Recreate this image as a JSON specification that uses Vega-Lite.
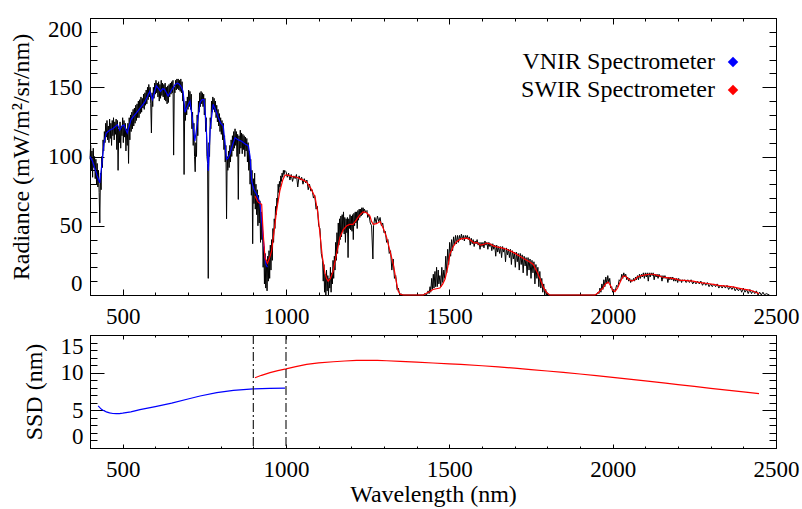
{
"$schema":"https://vega.github.io/schema/vega-lite/v6.json",
"background":"white",
"padding":{"left":8,"top":17,"right":5,"bottom":0},
"spacing":4,
"config":{
"font":"Liberation Serif",
"view":{"stroke":"black","strokeWidth":1},
"axis":{"labelFont":"Liberation Serif","labelFontSize":23,"labelColor":"black","titleFont":"Liberation Serif","titleFontSize":24,"titleFontWeight":"normal","titleColor":"black","tickColor":"black","grid":false,"domain":false,"labelOverlap":false},
"legend":{"labelFont":"Liberation Serif","labelFontSize":24,"labelColor":"black"}
},
"datasets":{
"spec":[
{"w":400,"r":98},{"w":402,"r":108},{"w":404,"r":90},{"w":406,"r":104},{"w":408,"r":85},{"w":410,"r":106},{"w":412,"r":92},{"w":414,"r":100},{"w":416,"r":84},{"w":418,"r":98},{"w":420,"r":80},{"w":422,"r":95},{"w":424,"r":78},{"w":426,"r":90},{"w":428,"r":74},{"w":430,"r":52},{"w":432,"r":88},{"w":434,"r":76},{"w":436,"r":100},{"w":438,"r":92},{"w":440,"r":112},{"w":442,"r":104},{"w":444,"r":118},{"w":446,"r":110},{"w":448,"r":124},{"w":450,"r":114},{"w":452,"r":126},{"w":454,"r":112},{"w":456,"r":122},{"w":458,"r":110},{"w":460,"r":127},{"w":462,"r":113},{"w":464,"r":124},{"w":466,"r":108},{"w":468,"r":126},{"w":470,"r":115},{"w":472,"r":128},{"w":474,"r":112},{"w":476,"r":125},{"w":478,"r":116},{"w":480,"r":127},{"w":482,"r":105},{"w":484,"r":126},{"w":486,"r":90},{"w":488,"r":120},{"w":490,"r":110},{"w":492,"r":125},{"w":494,"r":106},{"w":496,"r":122},{"w":498,"r":115},
{"w":500,"r":128},{"w":502,"r":110},{"w":504,"r":126},{"w":506,"r":114},{"w":508,"r":124},{"w":510,"r":104},{"w":512,"r":120},{"w":514,"r":108},{"w":516,"r":124},{"w":518,"r":95},{"w":520,"r":128},{"w":522,"r":112},{"w":524,"r":130},{"w":526,"r":118},{"w":528,"r":132},{"w":530,"r":120},{"w":532,"r":134},{"w":534,"r":122},{"w":536,"r":135},{"w":538,"r":124},{"w":540,"r":137},{"w":542,"r":126},{"w":544,"r":138},{"w":546,"r":128},{"w":548,"r":140},{"w":550,"r":128},{"w":552,"r":141},{"w":554,"r":131},{"w":556,"r":143},{"w":558,"r":132},{"w":560,"r":142},{"w":562,"r":135},{"w":564,"r":145},{"w":566,"r":134},{"w":568,"r":146},{"w":570,"r":137},{"w":572,"r":148},{"w":574,"r":138},{"w":576,"r":150},{"w":578,"r":141},{"w":580,"r":152},{"w":582,"r":143},{"w":584,"r":150},{"w":586,"r":138},{"w":588,"r":117},{"w":590,"r":146},{"w":592,"r":136},{"w":594,"r":150},{"w":596,"r":142},{"w":598,"r":153},
{"w":600,"r":145},{"w":602,"r":155},{"w":604,"r":146},{"w":606,"r":153},{"w":608,"r":143},{"w":610,"r":154},{"w":612,"r":140},{"w":614,"r":152},{"w":616,"r":142},{"w":618,"r":155},{"w":620,"r":144},{"w":622,"r":153},{"w":624,"r":143},{"w":626,"r":152},{"w":628,"r":141},{"w":630,"r":153},{"w":632,"r":140},{"w":634,"r":150},{"w":636,"r":138},{"w":638,"r":151},{"w":640,"r":139},{"w":642,"r":152},{"w":644,"r":143},{"w":646,"r":153},{"w":648,"r":145},{"w":650,"r":154},{"w":652,"r":146},{"w":654,"r":155},{"w":656,"r":101},{"w":658,"r":150},{"w":660,"r":146},{"w":662,"r":155},{"w":664,"r":148},{"w":666,"r":156},{"w":668,"r":149},{"w":670,"r":156},{"w":672,"r":148},{"w":674,"r":155},{"w":676,"r":147},{"w":678,"r":156},{"w":680,"r":146},{"w":682,"r":154},{"w":684,"r":140},{"w":686,"r":145},{"w":688,"r":87},{"w":690,"r":136},{"w":692,"r":126},{"w":694,"r":140},{"w":696,"r":130},{"w":698,"r":143},
{"w":700,"r":134},{"w":702,"r":148},{"w":704,"r":136},{"w":706,"r":147},{"w":708,"r":134},{"w":710,"r":145},{"w":712,"r":120},{"w":714,"r":132},{"w":716,"r":108},{"w":718,"r":124},{"w":720,"r":100},{"w":722,"r":89},{"w":724,"r":110},{"w":726,"r":100},{"w":728,"r":130},{"w":730,"r":115},{"w":732,"r":140},{"w":734,"r":132},{"w":736,"r":146},{"w":738,"r":136},{"w":740,"r":147},{"w":742,"r":138},{"w":744,"r":146},{"w":746,"r":136},{"w":748,"r":145},{"w":750,"r":130},{"w":752,"r":142},{"w":754,"r":118},{"w":756,"r":128},{"w":758,"r":100},{"w":760,"r":95},{"w":762,"r":12},{"w":764,"r":110},{"w":766,"r":100},{"w":768,"r":128},{"w":770,"r":120},{"w":772,"r":140},{"w":774,"r":132},{"w":776,"r":143},{"w":778,"r":134},{"w":780,"r":142},{"w":782,"r":132},{"w":784,"r":140},{"w":786,"r":128},{"w":788,"r":137},{"w":790,"r":125},{"w":792,"r":134},{"w":794,"r":122},{"w":796,"r":131},{"w":798,"r":118},
{"w":800,"r":128},{"w":802,"r":116},{"w":804,"r":126},{"w":806,"r":112},{"w":808,"r":124},{"w":810,"r":105},{"w":812,"r":115},{"w":814,"r":96},{"w":816,"r":108},{"w":818,"r":55},{"w":820,"r":100},{"w":822,"r":90},{"w":824,"r":104},{"w":826,"r":92},{"w":828,"r":108},{"w":830,"r":96},{"w":832,"r":112},{"w":834,"r":100},{"w":836,"r":115},{"w":838,"r":104},{"w":840,"r":118},{"w":842,"r":106},{"w":844,"r":120},{"w":846,"r":108},{"w":848,"r":118},{"w":850,"r":100},{"w":852,"r":116},{"w":854,"r":69},{"w":856,"r":115},{"w":858,"r":102},{"w":860,"r":119},{"w":862,"r":106},{"w":864,"r":117},{"w":866,"r":102},{"w":868,"r":116},{"w":870,"r":105},{"w":872,"r":115},{"w":874,"r":100},{"w":876,"r":114},{"w":878,"r":104},{"w":880,"r":113},{"w":882,"r":96},{"w":884,"r":110},{"w":886,"r":90},{"w":888,"r":104},{"w":890,"r":80},{"w":892,"r":98},{"w":894,"r":72},{"w":896,"r":90},{"w":898,"r":37},
{"w":900,"r":84},{"w":902,"r":66},{"w":904,"r":88},{"w":906,"r":62},{"w":908,"r":80},{"w":910,"r":58},{"w":912,"r":76},{"w":914,"r":50},{"w":916,"r":72},{"w":918,"r":52},{"w":920,"r":68},{"w":922,"r":38},{"w":924,"r":60},{"w":926,"r":40},{"w":928,"r":52},{"w":930,"r":20},{"w":932,"r":35},{"w":934,"r":8},{"w":936,"r":30},{"w":938,"r":5},{"w":940,"r":25},{"w":942,"r":3},{"w":944,"r":28},{"w":946,"r":10},{"w":948,"r":32},{"w":950,"r":12},{"w":952,"r":36},{"w":954,"r":18},{"w":956,"r":40},{"w":958,"r":25},{"w":960,"r":48},{"w":962,"r":38},{"w":964,"r":55},{"w":966,"r":48},{"w":968,"r":64},{"w":970,"r":58},{"w":972,"r":70},{"w":974,"r":66},{"w":976,"r":80},{"w":978,"r":74},{"w":980,"r":82},{"w":982,"r":78},{"w":984,"r":86},{"w":986,"r":82},{"w":988,"r":88},{"w":990,"r":85},{"w":992,"r":90},{"w":994,"r":87},{"w":996,"r":90},
{"w":1000,"r":89},{"w":1004,"r":85},{"w":1008,"r":88},{"w":1012,"r":83},{"w":1016,"r":87},{"w":1020,"r":82},{"w":1024,"r":86},{"w":1028,"r":84},{"w":1032,"r":87},{"w":1036,"r":78},{"w":1040,"r":86},{"w":1044,"r":83},{"w":1048,"r":85},{"w":1052,"r":80},{"w":1056,"r":84},{"w":1060,"r":81},{"w":1064,"r":83},{"w":1068,"r":76},{"w":1072,"r":80},{"w":1076,"r":75},{"w":1080,"r":76},{"w":1084,"r":70},{"w":1088,"r":72},{"w":1092,"r":62},{"w":1096,"r":64},{"w":1100,"r":50},{"w":1104,"r":48},{"w":1108,"r":30},{"w":1112,"r":25},{"w":1114,"r":10},{"w":1116,"r":22},{"w":1118,"r":2},{"w":1120,"r":15},{"w":1122,"r":0},{"w":1124,"r":18},{"w":1126,"r":3},{"w":1128,"r":14},{"w":1130,"r":0},{"w":1132,"r":12},{"w":1134,"r":5},{"w":1136,"r":20},{"w":1138,"r":2},{"w":1140,"r":16},{"w":1142,"r":8},{"w":1144,"r":25},{"w":1146,"r":12},{"w":1148,"r":28},{"w":1150,"r":18},{"w":1152,"r":38},{"w":1154,"r":25},{"w":1156,"r":45},{"w":1158,"r":30},{"w":1160,"r":52},{"w":1162,"r":36},{"w":1164,"r":55},{"w":1166,"r":40},{"w":1168,"r":57},{"w":1170,"r":42},{"w":1172,"r":58},{"w":1174,"r":46},{"w":1176,"r":60},{"w":1178,"r":44},{"w":1180,"r":56},{"w":1182,"r":38},{"w":1184,"r":55},{"w":1186,"r":45},{"w":1188,"r":56},{"w":1190,"r":27},{"w":1192,"r":55},{"w":1194,"r":48},{"w":1196,"r":58},{"w":1198,"r":47},
{"w":1200,"r":57},{"w":1202,"r":46},{"w":1204,"r":58},{"w":1206,"r":40},{"w":1208,"r":59},{"w":1210,"r":50},{"w":1212,"r":60},{"w":1214,"r":52},{"w":1216,"r":60},{"w":1218,"r":48},{"w":1220,"r":61},{"w":1222,"r":54},{"w":1224,"r":62},{"w":1226,"r":56},{"w":1228,"r":62},{"w":1230,"r":57},{"w":1232,"r":63},{"w":1234,"r":58},{"w":1236,"r":63},{"w":1238,"r":59},{"w":1240,"r":62},{"w":1244,"r":60},{"w":1248,"r":61},{"w":1250,"r":56},{"w":1254,"r":58},{"w":1258,"r":52},{"w":1262,"r":50},{"w":1266,"r":26},{"w":1268,"r":50},{"w":1272,"r":56},{"w":1276,"r":52},{"w":1280,"r":57},{"w":1284,"r":53},{"w":1288,"r":56},{"w":1292,"r":50},{"w":1296,"r":52},{"w":1300,"r":45},{"w":1304,"r":46},{"w":1308,"r":38},{"w":1312,"r":40},{"w":1316,"r":30},{"w":1320,"r":32},{"w":1324,"r":18},{"w":1328,"r":26},{"w":1332,"r":12},{"w":1336,"r":14},{"w":1340,"r":4},{"w":1344,"r":5},{"w":1348,"r":0},{"w":1352,"r":1},{"w":1356,"r":0},{"w":1420,"r":0},{"w":1425,"r":1},{"w":1430,"r":0},{"w":1435,"r":3},{"w":1438,"r":1},{"w":1441,"r":6},{"w":1443,"r":2},{"w":1446,"r":12},{"w":1448,"r":4},{"w":1451,"r":15},{"w":1453,"r":5},{"w":1456,"r":17},{"w":1458,"r":6},{"w":1461,"r":20},{"w":1463,"r":6},{"w":1466,"r":18},{"w":1468,"r":8},{"w":1471,"r":14},{"w":1474,"r":6},{"w":1477,"r":20},{"w":1480,"r":9},{"w":1483,"r":18},{"w":1486,"r":12},{"w":1489,"r":28},{"w":1492,"r":16},{"w":1495,"r":33},{"w":1498,"r":22},
{"w":1501,"r":38},{"w":1504,"r":28},{"w":1507,"r":40},{"w":1510,"r":32},{"w":1513,"r":42},{"w":1516,"r":36},{"w":1519,"r":43},{"w":1522,"r":37},{"w":1525,"r":43},{"w":1528,"r":38},{"w":1531,"r":43},{"w":1534,"r":40},{"w":1537,"r":44},{"w":1540,"r":40},{"w":1543,"r":43},{"w":1546,"r":39},{"w":1549,"r":43},{"w":1552,"r":41},{"w":1555,"r":43},{"w":1558,"r":40},{"w":1561,"r":42},{"w":1564,"r":36},{"w":1567,"r":41},{"w":1570,"r":37},{"w":1573,"r":40},{"w":1576,"r":35},{"w":1579,"r":39},{"w":1582,"r":37},{"w":1585,"r":40},{"w":1588,"r":36},{"w":1591,"r":38},{"w":1594,"r":33},{"w":1597,"r":38},{"w":1600,"r":35},{"w":1603,"r":38},{"w":1606,"r":34},{"w":1609,"r":39},{"w":1612,"r":36},{"w":1615,"r":38},{"w":1618,"r":33},{"w":1621,"r":38},{"w":1624,"r":35},{"w":1627,"r":37},{"w":1630,"r":32},{"w":1633,"r":37},{"w":1636,"r":33},{"w":1639,"r":36},{"w":1642,"r":28},{"w":1645,"r":36},{"w":1648,"r":31},{"w":1651,"r":35},{"w":1654,"r":30},{"w":1657,"r":35},{"w":1660,"r":27},{"w":1663,"r":35},{"w":1666,"r":31},{"w":1669,"r":34},{"w":1672,"r":24},{"w":1675,"r":34},{"w":1678,"r":29},{"w":1681,"r":33},{"w":1684,"r":27},{"w":1687,"r":33},{"w":1690,"r":22},{"w":1693,"r":32},{"w":1696,"r":26},{"w":1699,"r":31},
{"w":1702,"r":20},{"w":1705,"r":31},{"w":1708,"r":24},{"w":1711,"r":30},{"w":1714,"r":18},{"w":1717,"r":30},{"w":1720,"r":22},{"w":1723,"r":29},{"w":1726,"r":16},{"w":1729,"r":28},{"w":1732,"r":21},{"w":1735,"r":27},{"w":1738,"r":14},{"w":1741,"r":27},{"w":1744,"r":18},{"w":1747,"r":26},{"w":1750,"r":12},{"w":1753,"r":25},{"w":1756,"r":16},{"w":1759,"r":24},{"w":1762,"r":8},{"w":1765,"r":22},{"w":1768,"r":12},{"w":1771,"r":20},{"w":1774,"r":6},{"w":1777,"r":17},{"w":1780,"r":5},{"w":1783,"r":12},{"w":1786,"r":2},{"w":1789,"r":8},{"w":1792,"r":0},{"w":1795,"r":4},{"w":1798,"r":0},{"w":1802,"r":1},{"w":1806,"r":0},{"w":1950,"r":0},{"w":1955,"r":2},{"w":1958,"r":1},{"w":1961,"r":5},{"w":1964,"r":2},{"w":1967,"r":8},{"w":1970,"r":4},{"w":1973,"r":11},{"w":1976,"r":6},{"w":1979,"r":13},{"w":1982,"r":8},{"w":1985,"r":14},{"w":1988,"r":9},{"w":1991,"r":12},{"w":1994,"r":5},{"w":1997,"r":6},
{"w":2000,"r":2},{"w":2004,"r":4},{"w":2008,"r":3},{"w":2012,"r":7},{"w":2016,"r":6},{"w":2020,"r":11},{"w":2024,"r":10},{"w":2028,"r":15},{"w":2031,"r":12},{"w":2034,"r":16},{"w":2037,"r":13},{"w":2040,"r":15},{"w":2043,"r":11},{"w":2046,"r":13},{"w":2049,"r":10},{"w":2052,"r":12},{"w":2055,"r":9},{"w":2058,"r":11},{"w":2061,"r":10},{"w":2064,"r":12},{"w":2067,"r":10},{"w":2070,"r":13},{"w":2073,"r":11},{"w":2076,"r":14},{"w":2079,"r":11},{"w":2082,"r":15},{"w":2085,"r":12},{"w":2088,"r":15},{"w":2091,"r":13},{"w":2094,"r":16},{"w":2097,"r":12},{"w":2100,"r":16},{"w":2103,"r":13},{"w":2106,"r":16},{"w":2109,"r":10},{"w":2112,"r":16},{"w":2115,"r":13},{"w":2118,"r":16},{"w":2121,"r":14},{"w":2124,"r":16},{"w":2127,"r":11},{"w":2130,"r":15},{"w":2133,"r":13},{"w":2136,"r":15},{"w":2139,"r":12},{"w":2142,"r":15},{"w":2145,"r":13},{"w":2148,"r":14},{"w":2151,"r":10},{"w":2154,"r":14},{"w":2157,"r":12},{"w":2160,"r":14},{"w":2163,"r":12},{"w":2166,"r":13},{"w":2169,"r":9},{"w":2172,"r":13},{"w":2175,"r":11},{"w":2178,"r":13},{"w":2181,"r":11},{"w":2184,"r":13},{"w":2187,"r":10},{"w":2190,"r":12},{"w":2193,"r":10},{"w":2196,"r":12},{"w":2199,"r":9},
{"w":2202,"r":12},{"w":2205,"r":10},{"w":2208,"r":11},{"w":2211,"r":9},{"w":2214,"r":11},{"w":2217,"r":10},{"w":2220,"r":11},{"w":2225,"r":9},{"w":2230,"r":11},{"w":2235,"r":9},{"w":2240,"r":11},{"w":2245,"r":8},{"w":2250,"r":10},{"w":2255,"r":8},{"w":2260,"r":10},{"w":2265,"r":8},{"w":2270,"r":10},{"w":2275,"r":7},{"w":2280,"r":9},{"w":2285,"r":7},{"w":2290,"r":9},{"w":2295,"r":6},{"w":2300,"r":8},{"w":2305,"r":6},{"w":2310,"r":8},{"w":2315,"r":6},{"w":2320,"r":8},{"w":2325,"r":5},{"w":2330,"r":7},{"w":2335,"r":5},{"w":2340,"r":7},{"w":2345,"r":5},{"w":2350,"r":7},{"w":2355,"r":4},{"w":2360,"r":6},{"w":2365,"r":4},{"w":2370,"r":6},{"w":2375,"r":3},{"w":2380,"r":5},{"w":2385,"r":3},{"w":2390,"r":5},{"w":2395,"r":2},{"w":2400,"r":5},{"w":2405,"r":2},{"w":2410,"r":4},{"w":2415,"r":1},{"w":2420,"r":4},{"w":2425,"r":1},{"w":2430,"r":3},{"w":2435,"r":1},{"w":2440,"r":3},{"w":2445,"r":0},{"w":2450,"r":2},{"w":2455,"r":0},{"w":2460,"r":2},{"w":2465,"r":0},{"w":2470,"r":1},{"w":2480,"r":0}
],
"inst":[
{"s":"VNIR Spectrometer","w":400,"r":100},{"s":"VNIR Spectrometer","w":407,"r":97},{"s":"VNIR Spectrometer","w":414,"r":92},{"s":"VNIR Spectrometer","w":422,"r":86},{"s":"VNIR Spectrometer","w":430,"r":81},{"s":"VNIR Spectrometer","w":437,"r":96},{"s":"VNIR Spectrometer","w":443,"r":110},{"s":"VNIR Spectrometer","w":450,"r":117},{"s":"VNIR Spectrometer","w":460,"r":119},{"s":"VNIR Spectrometer","w":470,"r":120},{"s":"VNIR Spectrometer","w":484,"r":123},{"s":"VNIR Spectrometer","w":491,"r":119},{"s":"VNIR Spectrometer","w":498,"r":122},{"s":"VNIR Spectrometer","w":504,"r":122.7},{"s":"VNIR Spectrometer","w":514,"r":117},{"s":"VNIR Spectrometer","w":520,"r":122},{"s":"VNIR Spectrometer","w":526,"r":126.8},{"s":"VNIR Spectrometer","w":537,"r":130},{"s":"VNIR Spectrometer","w":547,"r":133},{"s":"VNIR Spectrometer","w":557,"r":136},{"s":"VNIR Spectrometer","w":567,"r":139},{"s":"VNIR Spectrometer","w":575,"r":143},{"s":"VNIR Spectrometer","w":583,"r":147},{"s":"VNIR Spectrometer","w":591,"r":141},{"s":"VNIR Spectrometer","w":597,"r":146},{"s":"VNIR Spectrometer","w":603,"r":151},{"s":"VNIR Spectrometer","w":610,"r":149},{"s":"VNIR Spectrometer","w":616,"r":147},{"s":"VNIR Spectrometer","w":622,"r":149},{"s":"VNIR Spectrometer","w":628,"r":148.5},{"s":"VNIR Spectrometer","w":634,"r":146},{"s":"VNIR Spectrometer","w":639,"r":143.7},{"s":"VNIR Spectrometer","w":650,"r":148},{"s":"VNIR Spectrometer","w":661,"r":152},{"s":"VNIR Spectrometer","w":668,"r":153},{"s":"VNIR Spectrometer","w":674,"r":152},{"s":"VNIR Spectrometer","w":680,"r":150},{"s":"VNIR Spectrometer","w":685,"r":147},{"s":"VNIR Spectrometer","w":691,"r":132},{"s":"VNIR Spectrometer","w":698,"r":136},{"s":"VNIR Spectrometer","w":706,"r":140},{"s":"VNIR Spectrometer","w":713,"r":128},{"s":"VNIR Spectrometer","w":721,"r":111},{"s":"VNIR Spectrometer","w":729,"r":125},{"s":"VNIR Spectrometer","w":737,"r":139},{"s":"VNIR Spectrometer","w":743,"r":141},{"s":"VNIR Spectrometer","w":749,"r":141},{"s":"VNIR Spectrometer","w":755,"r":125},{"s":"VNIR Spectrometer","w":762,"r":89.5},{"s":"VNIR Spectrometer","w":768,"r":120},{"s":"VNIR Spectrometer","w":777,"r":137.7},{"s":"VNIR Spectrometer","w":785,"r":133},{"s":"VNIR Spectrometer","w":793,"r":128},{"s":"VNIR Spectrometer","w":800,"r":124},{"s":"VNIR Spectrometer","w":808,"r":122},{"s":"VNIR Spectrometer","w":813,"r":110},{"s":"VNIR Spectrometer","w":818,"r":98},{"s":"VNIR Spectrometer","w":823,"r":99},{"s":"VNIR Spectrometer","w":828,"r":101.6},{"s":"VNIR Spectrometer","w":836,"r":108},{"s":"VNIR Spectrometer","w":844,"r":113.6},{"s":"VNIR Spectrometer","w":854,"r":112},{"s":"VNIR Spectrometer","w":864,"r":111},{"s":"VNIR Spectrometer","w":875,"r":109},{"s":"VNIR Spectrometer","w":885,"r":107.6},{"s":"VNIR Spectrometer","w":890,"r":100},{"s":"VNIR Spectrometer","w":895,"r":82},{"s":"VNIR Spectrometer","w":902,"r":76},{"s":"VNIR Spectrometer","w":910,"r":72.7},{"s":"VNIR Spectrometer","w":920,"r":66.6},{"s":"VNIR Spectrometer","w":925,"r":55},{"s":"VNIR Spectrometer","w":930,"r":41.4},{"s":"VNIR Spectrometer","w":935,"r":28},{"s":"VNIR Spectrometer","w":939,"r":22},{"s":"VNIR Spectrometer","w":943,"r":20},
{"s":"SWIR Spectrometer","w":905,"r":71.5},{"s":"SWIR Spectrometer","w":915,"r":67},{"s":"SWIR Spectrometer","w":925.5,"r":65.5},{"s":"SWIR Spectrometer","w":930,"r":45},{"s":"SWIR Spectrometer","w":935.6,"r":27},{"s":"SWIR Spectrometer","w":943,"r":23},{"s":"SWIR Spectrometer","w":950,"r":27},{"s":"SWIR Spectrometer","w":956,"r":31.8},{"s":"SWIR Spectrometer","w":963,"r":45},{"s":"SWIR Spectrometer","w":971,"r":60.6},{"s":"SWIR Spectrometer","w":981,"r":75},{"s":"SWIR Spectrometer","w":990,"r":83},{"s":"SWIR Spectrometer","w":997,"r":86.6},{"s":"SWIR Spectrometer","w":1005,"r":86.5},{"s":"SWIR Spectrometer","w":1020,"r":85.5},{"s":"SWIR Spectrometer","w":1033,"r":85},{"s":"SWIR Spectrometer","w":1048,"r":83.5},{"s":"SWIR Spectrometer","w":1063,"r":81.6},{"s":"SWIR Spectrometer","w":1076,"r":77},{"s":"SWIR Spectrometer","w":1089,"r":70.6},{"s":"SWIR Spectrometer","w":1097,"r":60},{"s":"SWIR Spectrometer","w":1104,"r":44},{"s":"SWIR Spectrometer","w":1111,"r":28},{"s":"SWIR Spectrometer","w":1119,"r":16},{"s":"SWIR Spectrometer","w":1124,"r":12},{"s":"SWIR Spectrometer","w":1129,"r":10},{"s":"SWIR Spectrometer","w":1136,"r":12},{"s":"SWIR Spectrometer","w":1144,"r":17},{"s":"SWIR Spectrometer","w":1155,"r":30},{"s":"SWIR Spectrometer","w":1165,"r":41.6},{"s":"SWIR Spectrometer","w":1175,"r":47},{"s":"SWIR Spectrometer","w":1186,"r":50},{"s":"SWIR Spectrometer","w":1195,"r":51},{"s":"SWIR Spectrometer","w":1205,"r":51},{"s":"SWIR Spectrometer","w":1215,"r":54},{"s":"SWIR Spectrometer","w":1225,"r":57.5},{"s":"SWIR Spectrometer","w":1236,"r":60},{"s":"SWIR Spectrometer","w":1246,"r":59.5},{"s":"SWIR Spectrometer","w":1257,"r":57},{"s":"SWIR Spectrometer","w":1262,"r":53},{"s":"SWIR Spectrometer","w":1267,"r":51},{"s":"SWIR Spectrometer","w":1277,"r":51.5},{"s":"SWIR Spectrometer","w":1288,"r":53},{"s":"SWIR Spectrometer","w":1298,"r":48},{"s":"SWIR Spectrometer","w":1308,"r":41.6},{"s":"SWIR Spectrometer","w":1318,"r":32},{"s":"SWIR Spectrometer","w":1328,"r":22.6},{"s":"SWIR Spectrometer","w":1336,"r":12},{"s":"SWIR Spectrometer","w":1343,"r":3},{"s":"SWIR Spectrometer","w":1350,"r":0.5},{"s":"SWIR Spectrometer","w":1360,"r":0},{"s":"SWIR Spectrometer","w":1420,"r":0},{"s":"SWIR Spectrometer","w":1440,"r":2.5},{"s":"SWIR Spectrometer","w":1450,"r":4},{"s":"SWIR Spectrometer","w":1460,"r":4.5},{"s":"SWIR Spectrometer","w":1471,"r":5},{"s":"SWIR Spectrometer","w":1480,"r":8},{"s":"SWIR Spectrometer","w":1487,"r":11.5},{"s":"SWIR Spectrometer","w":1495,"r":20},{"s":"SWIR Spectrometer","w":1502,"r":29.6},{"s":"SWIR Spectrometer","w":1512,"r":35},{"s":"SWIR Spectrometer","w":1522,"r":38.5},{"s":"SWIR Spectrometer","w":1535,"r":40.5},{"s":"SWIR Spectrometer","w":1553,"r":41},{"s":"SWIR Spectrometer","w":1560,"r":40.5},{"s":"SWIR Spectrometer","w":1568,"r":39},{"s":"SWIR Spectrometer","w":1576,"r":37.5},{"s":"SWIR Spectrometer","w":1585,"r":38},{"s":"SWIR Spectrometer","w":1594,"r":36},{"s":"SWIR Spectrometer","w":1605,"r":36.5},{"s":"SWIR Spectrometer","w":1614,"r":37.5},{"s":"SWIR Spectrometer","w":1624,"r":37},{"s":"SWIR Spectrometer","w":1635,"r":35.5},{"s":"SWIR Spectrometer","w":1645,"r":34.7},{"s":"SWIR Spectrometer","w":1660,"r":34},{"s":"SWIR Spectrometer","w":1675,"r":33},{"s":"SWIR Spectrometer","w":1690,"r":31.5},{"s":"SWIR Spectrometer","w":1705,"r":29.5},{"s":"SWIR Spectrometer","w":1716,"r":28},{"s":"SWIR Spectrometer","w":1730,"r":26},{"s":"SWIR Spectrometer","w":1745,"r":24},{"s":"SWIR Spectrometer","w":1757,"r":22},{"s":"SWIR Spectrometer","w":1768,"r":17},{"s":"SWIR Spectrometer","w":1778,"r":11.5},{"s":"SWIR Spectrometer","w":1788,"r":5.5},{"s":"SWIR Spectrometer","w":1798,"r":1.7},{"s":"SWIR Spectrometer","w":1808,"r":0},{"s":"SWIR Spectrometer","w":1946,"r":0},{"s":"SWIR Spectrometer","w":1955,"r":1.5},{"s":"SWIR Spectrometer","w":1961,"r":3},{"s":"SWIR Spectrometer","w":1970,"r":5},{"s":"SWIR Spectrometer","w":1978,"r":8},{"s":"SWIR Spectrometer","w":1986,"r":9.4},{"s":"SWIR Spectrometer","w":1993,"r":7},{"s":"SWIR Spectrometer","w":2000,"r":3.5},{"s":"SWIR Spectrometer","w":2007,"r":2.4},{"s":"SWIR Spectrometer","w":2015,"r":5},{"s":"SWIR Spectrometer","w":2024,"r":10},{"s":"SWIR Spectrometer","w":2032,"r":13.7},{"s":"SWIR Spectrometer","w":2040,"r":13.5},{"s":"SWIR Spectrometer","w":2048,"r":11.5},{"s":"SWIR Spectrometer","w":2058,"r":10},{"s":"SWIR Spectrometer","w":2068,"r":11},{"s":"SWIR Spectrometer","w":2076,"r":13},{"s":"SWIR Spectrometer","w":2084,"r":13.7},{"s":"SWIR Spectrometer","w":2100,"r":14.5},{"s":"SWIR Spectrometer","w":2112,"r":15},{"s":"SWIR Spectrometer","w":2124,"r":15},{"s":"SWIR Spectrometer","w":2140,"r":14},{"s":"SWIR Spectrometer","w":2152,"r":13},{"s":"SWIR Spectrometer","w":2165,"r":12.5},{"s":"SWIR Spectrometer","w":2180,"r":12},{"s":"SWIR Spectrometer","w":2195,"r":11.5},{"s":"SWIR Spectrometer","w":2206,"r":10.6},{"s":"SWIR Spectrometer","w":2220,"r":10.5},{"s":"SWIR Spectrometer","w":2235,"r":10.2},{"s":"SWIR Spectrometer","w":2246,"r":10},{"s":"SWIR Spectrometer","w":2260,"r":9.3},{"s":"SWIR Spectrometer","w":2275,"r":8.8},{"s":"SWIR Spectrometer","w":2290,"r":8.3},{"s":"SWIR Spectrometer","w":2308,"r":7.7},{"s":"SWIR Spectrometer","w":2325,"r":7},{"s":"SWIR Spectrometer","w":2340,"r":6.6},{"s":"SWIR Spectrometer","w":2355,"r":6.2},{"s":"SWIR Spectrometer","w":2368,"r":5.8},{"s":"SWIR Spectrometer","w":2385,"r":5},{"s":"SWIR Spectrometer","w":2400,"r":4.3},{"s":"SWIR Spectrometer","w":2415,"r":3.7},{"s":"SWIR Spectrometer","w":2429,"r":2.9},{"s":"SWIR Spectrometer","w":2440,"r":1.8},{"s":"SWIR Spectrometer","w":2448,"r":1}
],
"ssd":[
{"s":"VNIR","w":425,"d":5.6},{"s":"VNIR","w":430,"d":5.35},{"s":"VNIR","w":435,"d":5.15},{"s":"VNIR","w":440,"d":5.0},{"s":"VNIR","w":450,"d":4.8},{"s":"VNIR","w":460,"d":4.66},{"s":"VNIR","w":470,"d":4.58},{"s":"VNIR","w":480,"d":4.56},{"s":"VNIR","w":490,"d":4.57},{"s":"VNIR","w":500,"d":4.62},{"s":"VNIR","w":525,"d":4.8},{"s":"VNIR","w":553,"d":5.1},{"s":"VNIR","w":600,"d":5.5},{"s":"VNIR","w":650,"d":5.95},{"s":"VNIR","w":700,"d":6.5},{"s":"VNIR","w":737,"d":6.9},{"s":"VNIR","w":788,"d":7.35},{"s":"VNIR","w":839,"d":7.65},{"s":"VNIR","w":900,"d":7.85},{"s":"VNIR","w":950,"d":7.92},{"s":"VNIR","w":997,"d":7.95},
{"s":"SWIR","w":905,"d":9.33},{"s":"SWIR","w":925,"d":9.65},{"s":"SWIR","w":951,"d":10.0},{"s":"SWIR","w":975,"d":10.28},{"s":"SWIR","w":1000,"d":10.5},{"s":"SWIR","w":1030,"d":10.8},{"s":"SWIR","w":1063,"d":11.1},{"s":"SWIR","w":1100,"d":11.3},{"s":"SWIR","w":1145,"d":11.45},{"s":"SWIR","w":1180,"d":11.55},{"s":"SWIR","w":1216,"d":11.62},{"s":"SWIR","w":1250,"d":11.63},{"s":"SWIR","w":1280,"d":11.62},{"s":"SWIR","w":1308,"d":11.58},{"s":"SWIR","w":1350,"d":11.5},{"s":"SWIR","w":1400,"d":11.4},{"s":"SWIR","w":1450,"d":11.28},{"s":"SWIR","w":1500,"d":11.18},{"s":"SWIR","w":1535,"d":11.1},{"s":"SWIR","w":1600,"d":10.92},{"s":"SWIR","w":1650,"d":10.77},{"s":"SWIR","w":1700,"d":10.6},{"s":"SWIR","w":1750,"d":10.4},{"s":"SWIR","w":1800,"d":10.22},{"s":"SWIR","w":1849,"d":10.04},{"s":"SWIR","w":1900,"d":9.82},{"s":"SWIR","w":1950,"d":9.6},{"s":"SWIR","w":2000,"d":9.38},{"s":"SWIR","w":2050,"d":9.15},{"s":"SWIR","w":2100,"d":8.9},{"s":"SWIR","w":2162,"d":8.6},{"s":"SWIR","w":2200,"d":8.42},{"s":"SWIR","w":2250,"d":8.17},{"s":"SWIR","w":2300,"d":7.92},{"s":"SWIR","w":2350,"d":7.68},{"s":"SWIR","w":2400,"d":7.45},{"s":"SWIR","w":2448,"d":7.22}
],
"lims":[{"w":900},{"w":1000}]
},
"vconcat":[
{
"width":686,"height":277,
"resolve":{"axis":{"x":"independent","y":"independent"}},
"layer":[
{"data":{"name":"spec"},"mark":{"type":"line","color":"black","strokeWidth":1},
"encoding":{
"x":{"field":"w","type":"quantitative","scale":{"domain":[400,2500],"nice":false,"zero":false},"axis":{"orient":"bottom","values":[500,1000,1500,2000,2500],"format":"d","ticks":false,"labelPadding":10,"labelFlush":false,"labelFont":"Liberation Serif","labelFontSize":23,"title":null}},
"y":{"field":"r","type":"quantitative","scale":{"domain":[0,200],"nice":false,"zero":false},"axis":{"orient":"left","values":[0,50,100,150,200],"format":"d","ticks":false,"labelPadding":8,"labelFlush":true,"labelFont":"Liberation Serif","labelFontSize":23,"title":"Radiance (mW/m²/sr/nm)","titleFont":"Liberation Serif","titleFontSize":24,"titlePadding":14}}}},
{"data":{"name":"inst"},"transform":[{"filter":"datum.s === 'VNIR Spectrometer'"}],"mark":{"type":"line","color":"#0000ff","strokeWidth":1.2},
"encoding":{
"x":{"field":"w","type":"quantitative","axis":{"orient":"bottom","values":[500,1000,1500,2000,2500],"labels":false,"tickSize":-6,"title":null}},
"y":{"field":"r","type":"quantitative","axis":{"orient":"left","values":[0,50,100,150,200],"labels":false,"tickSize":-14,"title":null}}}},
{"data":{"name":"inst"},"transform":[{"filter":"datum.s === 'SWIR Spectrometer'"}],"mark":{"type":"line","color":"#ff0000","strokeWidth":1.2},
"encoding":{
"x":{"field":"w","type":"quantitative","axis":null},
"y":{"field":"r","type":"quantitative","axis":null}}},
{"data":{"name":"inst"},"mark":{"type":"point","filled":true,"shape":"diamond","size":0,"opacity":1},
"encoding":{
"x":{"field":"w","type":"quantitative","axis":{"orient":"bottom","values":[400,500,600,700,800,900,1000,1100,1200,1300,1400,1500,1600,1700,1800,1900,2000,2100,2200,2300,2400,2500],"labels":false,"tickSize":-3,"title":null}},
"y":{"field":"r","type":"quantitative","axis":{"orient":"left","values":[0,10,20,30,40,50,60,70,80,90,100,110,120,130,140,150,160,170,180,190,200],"labels":false,"tickSize":-7,"title":null}},
"color":{"field":"s","type":"nominal","scale":{"domain":["VNIR Spectrometer","SWIR Spectrometer"],"range":["#0000ff","#ff0000"]},"legend":{"title":null,"orient":"none","legendX":631,"legendY":32,"padding":0,"symbolType":"diamond","symbolSize":110,"symbolStrokeWidth":0,"labelFont":"Liberation Serif","labelFontSize":24,"labelColor":"black","labelAlign":"right","labelOffset":-30,"labelLimit":500,"rowPadding":4}}}},
{"data":{"name":"inst"},"mark":{"type":"point","opacity":0},
"encoding":{
"x":{"field":"w","type":"quantitative","axis":{"orient":"top","values":[500,1000,1500,2000,2500],"labels":false,"tickSize":-6,"title":null}},
"y":{"field":"r","type":"quantitative","axis":{"orient":"right","values":[0,50,100,150,200],"labels":false,"tickSize":-14,"title":null}}}},
{"data":{"name":"inst"},"mark":{"type":"point","opacity":0},
"encoding":{
"x":{"field":"w","type":"quantitative","axis":{"orient":"top","values":[400,500,600,700,800,900,1000,1100,1200,1300,1400,1500,1600,1700,1800,1900,2000,2100,2200,2300,2400,2500],"labels":false,"tickSize":-3,"title":null}},
"y":{"field":"r","type":"quantitative","axis":{"orient":"right","values":[0,10,20,30,40,50,60,70,80,90,100,110,120,130,140,150,160,170,180,190,200],"labels":false,"tickSize":-7,"title":null}}}}
]
},
{
"width":686,"height":113,
"resolve":{"axis":{"x":"independent","y":"independent"}},
"layer":[
{"data":{"name":"ssd"},"transform":[{"filter":"datum.s === 'VNIR'"}],"mark":{"type":"line","color":"#0000ff","strokeWidth":1.2},
"encoding":{
"x":{"field":"w","type":"quantitative","scale":{"domain":[400,2500],"nice":false,"zero":false},"axis":{"orient":"bottom","values":[500,1000,1500,2000,2500],"format":"d","ticks":false,"labelPadding":10,"labelFlush":false,"labelFont":"Liberation Serif","labelFontSize":23,"title":"Wavelength (nm)","titleFont":"Liberation Serif","titleFontSize":24,"titlePadding":1}},
"y":{"field":"d","type":"quantitative","scale":{"domain":[0,15],"nice":false,"zero":false},"axis":{"orient":"left","values":[0,5,10,15],"format":"d","ticks":false,"labelPadding":7,"labelFlush":true,"labelFont":"Liberation Serif","labelFontSize":23,"title":"SSD (nm)","titleFont":"Liberation Serif","titleFontSize":24,"titlePadding":14}}}},
{"data":{"name":"ssd"},"transform":[{"filter":"datum.s === 'SWIR'"}],"mark":{"type":"line","color":"#ff0000","strokeWidth":1.2},
"encoding":{
"x":{"field":"w","type":"quantitative","axis":{"orient":"bottom","values":[500,1000,1500,2000,2500],"labels":false,"tickSize":-4,"title":null}},
"y":{"field":"d","type":"quantitative","axis":{"orient":"left","values":[0,5,10,15],"labels":false,"tickSize":-14,"title":null}}}},
{"data":{"name":"lims"},"mark":{"type":"rule","color":"#222222","strokeWidth":1.2,"strokeDash":[9,3,2,3]},
"encoding":{"x":{"field":"w","type":"quantitative","axis":null}}},
{"data":{"name":"ssd"},"mark":{"type":"point","opacity":0},
"encoding":{
"x":{"field":"w","type":"quantitative","axis":{"orient":"bottom","values":[400,500,600,700,800,900,1000,1100,1200,1300,1400,1500,1600,1700,1800,1900,2000,2100,2200,2300,2400,2500],"labels":false,"tickSize":-2,"title":null}},
"y":{"field":"d","type":"quantitative","axis":{"orient":"left","values":[0,1,2,3,4,5,6,7,8,9,10,11,12,13,14,15],"labels":false,"tickSize":-7,"title":null}}}},
{"data":{"name":"ssd"},"mark":{"type":"point","opacity":0},
"encoding":{
"x":{"field":"w","type":"quantitative","axis":{"orient":"top","values":[500,1000,1500,2000,2500],"labels":false,"tickSize":-4,"title":null}},
"y":{"field":"d","type":"quantitative","axis":{"orient":"right","values":[0,5,10,15],"labels":false,"tickSize":-14,"title":null}}}},
{"data":{"name":"ssd"},"mark":{"type":"point","opacity":0},
"encoding":{
"x":{"field":"w","type":"quantitative","axis":{"orient":"top","values":[400,500,600,700,800,900,1000,1100,1200,1300,1400,1500,1600,1700,1800,1900,2000,2100,2200,2300,2400,2500],"labels":false,"tickSize":-2,"title":null}},
"y":{"field":"d","type":"quantitative","axis":{"orient":"right","values":[0,1,2,3,4,5,6,7,8,9,10,11,12,13,14,15],"labels":false,"tickSize":-7,"title":null}}}}
]
}
]
}
